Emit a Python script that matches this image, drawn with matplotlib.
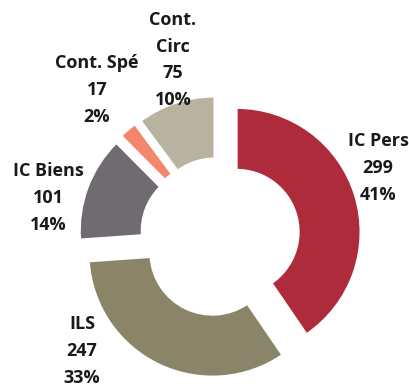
import matplotlib.pyplot as plt

# données du graphique
categories = ['IC Pers', 'ILS', 'IC Biens', 'Cont. Spé', 'Cont.\nCirc']
values = [299, 247, 101, 17, 75]
pct_labels = ['41%', '33%', '14%', '2%', '10%']
colors = ['#AE2B3B', '#8A8468', '#6F6B70', '#F2876E', '#B8B2A0']

W, H = 410, 387
cx, cy, R = 220, 237, 124  # centre et rayon de l'anneau, en pixels

fig = plt.figure(figsize=(W / 100, H / 100), dpi=100)
ax = fig.add_axes([0, 0, 1, 1])

ax.pie(values, colors=colors, startangle=90, counterclock=False,
       explode=[0.14] * len(values), radius=1,
       wedgeprops=dict(width=0.5, edgecolor='white', linewidth=1.5))

# 1 unité = R pixels, centre placé en (cx, cy)
ax.set_xlim(-cx / R, (W - cx) / R)
ax.set_ylim(-(H - cy) / R, cy / R)
ax.set_aspect('auto')
ax.axis('off')

# étiquettes (position du centre en pixels)
label_pos = [(378, 168), (82, 351), (48, 198), (97, 90), (173, 60)]
for name, v, p, (x, y) in zip(categories, values, pct_labels, label_pos):
    fig.text(x / W, 1 - y / H, f'{name}\n{v}\n{p}', ha='center', va='center',
             fontsize=13, fontweight='bold', family='Open Sans',
             linespacing=1.62, color='#1a1a1a')

fig.savefig('out.png', dpi=100)
